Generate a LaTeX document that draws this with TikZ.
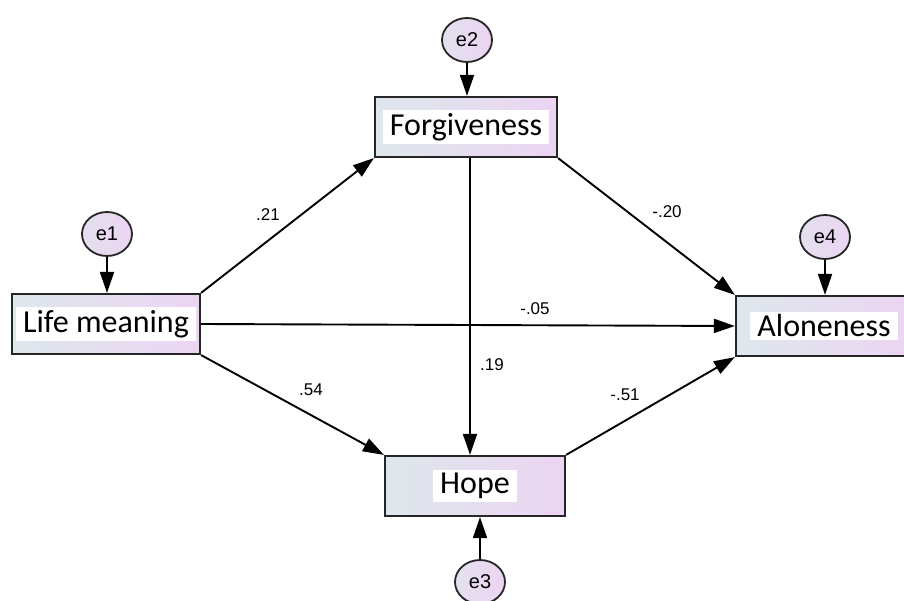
\documentclass[tikz,border=0pt]{standalone}
\usepackage{fontspec}
\setmainfont{Carlito}
\newfontfamily\coeffont{Liberation Sans}
\usetikzlibrary{arrows.meta,shapes.geometric}
\definecolor{boxleft}{RGB}{222,232,236}
\definecolor{boxright}{RGB}{236,212,242}
\begin{document}
\begin{tikzpicture}[x=1pt, y=-1pt,
  var/.style={draw=black!85, line width=2.2pt, left color=boxleft, right color=boxright, minimum height=60pt, inner sep=0pt},
  vartext/.style={fill=white, inner xsep=7pt, inner ysep=3pt, font=\fontsize{32}{34}\selectfont},
  err/.style={ellipse, draw=black!85, line width=1.8pt, left color=boxleft!60!boxright, right color=boxright, minimum width=50pt, minimum height=44pt, inner sep=0pt, font=\coeffont\fontsize{20}{22}\selectfont},
  path/.style={line width=1.9pt, black, -{Triangle[length=21pt,width=14pt]}},
  coef/.style={font=\coeffont\fontsize{17}{19}\selectfont, inner sep=1pt}]
\useasboundingbox (0,0) rectangle (904,601);
% observed variables
\node[var, minimum width=182pt] (forg) at (466,127) {};
\node[vartext] (forgt) at (forg) {Forgiveness};
\node[var, minimum width=188pt] (lm) at (106,324) {};
\node[vartext] (lmt) at (lm) {Life meaning};
\node[var, minimum width=176pt] (alone) at (824,326) {};
\node[vartext] (alonet) at (alone) {Aloneness};
\node[var, minimum width=180pt] (hope) at (475,486) {};
\node[vartext] (hopet) at (hope) {Hope};
% error terms
\foreach \n/\x/\y/\tgt/\side in {e1/107/234/lm/north, e2/467/40/forg/north, e4/825/237/alone/north, e3/480/582/hope/south} {
  \node[err] (\n) at (\x,\y) {\n};
  \draw[path] (\n) -- (\n |- \tgt.\side);
}
% paths
\draw[path] (lm.north east) -- (forg.south west);
\draw[path] (lm.east) -- (alone.west);
\draw[path] (lm.south east) -- (hope.north west);
\draw[path] ([xshift=4pt]forg.south) -- ([xshift=4pt]forg.south |- hope.north);
\draw[path] (forg.south east) -- (alone.north west);
\draw[path] (hope.north east) -- (alone.south west);
% coefficients
\node[coef] (c21) at (268,215) {.21};
\node[coef] (c05) at (535,309) {-.05};
\node[coef] (c54) at (311,390) {.54};
\node[coef] (c19) at (492,365) {.19};
\node[coef] (c20) at (667,212) {-.20};
\node[coef] (c51) at (625,395) {-.51};
\end{tikzpicture}
\end{document}
